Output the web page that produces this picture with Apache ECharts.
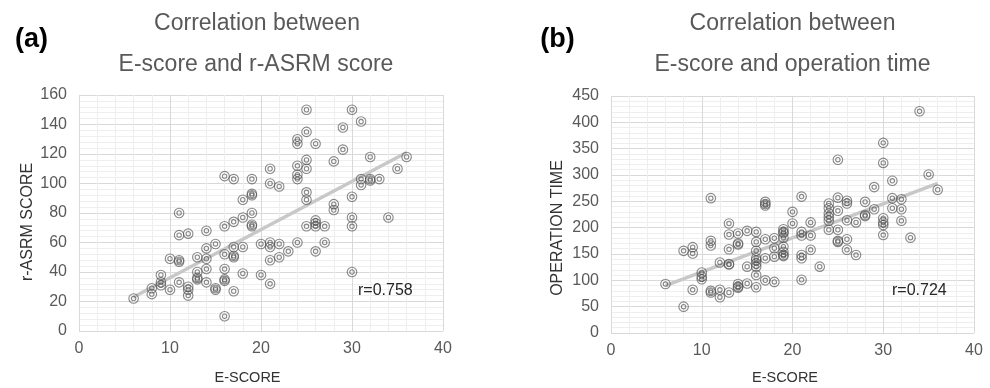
<!DOCTYPE html>
<html>
<head>
<meta charset="utf-8">
<script src="https://cdn.jsdelivr.net/npm/echarts@6/dist/echarts.min.js"></script>
<style>html,body{margin:0;padding:0;background:#fff}#c{width:990px;height:388px}</style>
</head>
<body>
<div id="c"></div>
<script>
// (E-score, r-ASRM score)
const asrmData = [
[6,22],[8,25],[8,29],[9,31],[9,33],[9,38],[10,28],[10,49],[11,33],[11,47],[11,48],[11,65],[11,80],
[12,24],[12,28],[12,30],[12,66],[13,35],[13,36],[13,40],[13,50],[14,33],[14,42],[14,49],[14,56],[14,68],
[15,28],[15,29],[15,59],[16,10],[16,34],[16,35],[16,42],[16,52],[16,71],[16,105],
[17,27],[17,50],[17,51],[17,57],[17,74],[17,103],[18,39],[18,57],[18,77],[18,89],
[19,71],[19,72],[19,80],[19,92],[19,93],[19,103],[20,38],[20,59],[21,32],[21,48],[21,57],[21,60],[21,100],[21,110],
[22,50],[22,59],[22,98],[23,54],[24,60],[24,103],[24,106],[24,112],[24,127],[24,130],
[25,71],[25,89],[25,94],[25,110],[25,116],[25,135],[25,150],[26,54],[26,71],[26,73],[26,75],[26,127],[27,60],[27,71],
[28,82],[28,86],[28,115],[29,123],[29,138],[30,40],[30,71],[30,77],[30,91],[30,150],[31,99],[31,103],[31,142],
[32,102],[32,103],[32,118],[33,103],[34,77],[35,110],[36,118]
];
// (E-score, operation time)
const opTimeData = [
[6,93],[8,50],[8,156],[9,82],[9,151],[9,163],[10,102],[10,107],[10,115],
[11,77],[11,80],[11,166],[11,175],[11,256],[12,68],[12,82],[12,134],
[13,77],[13,130],[13,131],[13,159],[13,187],[13,208],[14,86],[14,88],[14,93],[14,168],[14,170],[14,189],
[15,94],[15,126],[15,194],[16,87],[16,110],[16,126],[16,132],[16,138],[16,142],[16,156],[16,173],[16,192],
[17,100],[17,142],[17,178],[17,242],[17,245],[17,249],[18,97],[18,145],[18,161],[18,180],
[19,146],[19,148],[19,154],[19,164],[19,181],[19,190],[19,192],[19,197],[20,208],[20,230],
[21,101],[21,142],[21,148],[21,185],[21,192],[21,259],[22,158],[22,185],[22,210],[23,126],
[24,196],[24,213],[24,220],[24,227],[24,237],[24,246],[25,173],[25,175],[25,196],[25,232],[25,257],[25,329],
[26,158],[26,178],[26,214],[26,246],[26,251],[27,148],[27,210],[28,222],[28,224],[28,249],[29,235],[29,277],
[30,186],[30,205],[30,210],[30,218],[30,323],[30,361],[31,237],[31,256],[31,289],[32,213],[32,235],[32,254],
[33,181],[34,421],[35,301],[36,272]
];
const trendA = [[6,23],[36,121]];
const trendB = [[6,90],[36,284]];
const titlesA = ['Correlation between', 'E-score and r-ASRM score'];
const titlesB = ['Correlation between', 'E-score and operation time'];
const rA = 'r=0.758', rB = 'r=0.724';

const FF = '"Liberation Sans", Arial, sans-serif';
const ring = 'path://M5,0A5,5 0 1,1 5,10A5,5 0 1,1 5,0ZM5,2.7A2.3,2.3 0 1,1 5,7.3A2.3,2.3 0 1,1 5,2.7Z';

function xAx(gi){
  return {gridIndex:gi, type:'value', min:0, max:40, interval:10,
    axisLine:{show:false}, axisTick:{show:false},
    axisLabel:{color:'#595959', fontSize:16, fontFamily:FF, margin:10},
    splitLine:{show:true, lineStyle:{color:'#d9d9d9', width:1}},
    minorTick:{show:false, splitNumber:5},
    minorSplitLine:{show:true, lineStyle:{color:'#eeeeee', width:1}}};
}
function yAx(gi, max, iv){
  return {gridIndex:gi, type:'value', min:0, max:max, interval:iv,
    axisLine:{show:false}, axisTick:{show:false},
    axisLabel:{color:'#595959', fontSize:16, fontFamily:FF, margin:12},
    splitLine:{show:true, lineStyle:{color:'#d9d9d9', width:1}},
    minorTick:{show:false, splitNumber:5},
    minorSplitLine:{show:true, lineStyle:{color:'#eeeeee', width:1}}};
}
function txt(text, x, y, size, color, opts){
  return Object.assign({type:'text', x:x, y:y, silent:true,
    style:{text:text, fill:color, font:size, textAlign:'center', textVerticalAlign:'middle'}}, opts||{});
}
const scatterStyle = {color:'rgba(0,0,0,0)', borderColor:'rgba(80,80,80,0.85)', borderWidth:1.1};

const chart = echarts.init(document.getElementById('c'), null, {renderer:'canvas'});
chart.setOption({
  animation:false,
  backgroundColor:'#fff',
  grid:[
    {left:79, top:95, width:364, height:236},
    {left:611, top:96, width:363, height:237}
  ],
  xAxis:[xAx(0), xAx(1)],
  yAxis:[yAx(0,160,20), yAx(1,450,50)],
  series:[
    {type:'line', xAxisIndex:0, yAxisIndex:0, data:trendA, showSymbol:false, silent:true, z:1,
      lineStyle:{color:'#c8c8c8', width:3.5}},
    {type:'line', xAxisIndex:1, yAxisIndex:1, data:trendB, showSymbol:false, silent:true, z:1,
      lineStyle:{color:'#c8c8c8', width:3.5}},
    {type:'scatter', xAxisIndex:0, yAxisIndex:0, data:asrmData, symbol:ring, symbolSize:9.5, z:2, itemStyle:scatterStyle},
    {type:'scatter', xAxisIndex:1, yAxisIndex:1, data:opTimeData, symbol:ring, symbolSize:9.5, z:2, itemStyle:scatterStyle}
  ],
  graphic:[
    txt('(a)', 31.5, 39.5, 'bold 27px '+FF, '#000'),
    txt('(b)', 557.5, 39.5, 'bold 27px '+FF, '#000'),
    txt(titlesA[0], 257, 24, '23px '+FF, '#595959'),
    txt(titlesA[1], 256, 64.5, '23px '+FF, '#595959'),
    txt(titlesB[0], 792.5, 24, '23px '+FF, '#595959'),
    txt(titlesB[1], 792.5, 64.5, '23px '+FF, '#595959'),
    {type:'text', x:358, y:291, silent:true, z:10,
      style:{text:rA, fill:'#262626', font:'16px '+FF, textAlign:'left', textVerticalAlign:'middle'}},
    {type:'text', x:892, y:291, silent:true, z:10,
      style:{text:rB, fill:'#262626', font:'16px '+FF, textAlign:'left', textVerticalAlign:'middle'}},
    txt('E-SCORE', 247.5, 377.5, '14.5px '+FF, '#333'),
    txt('E-SCORE', 785, 378, '14.5px '+FF, '#333'),
    txt('r-ASRM SCORE', 28, 222, '16px '+FF, '#333', {rotation:Math.PI/2}),
    txt('OPERATION TIME', 558, 228, '16px '+FF, '#333', {rotation:Math.PI/2})
  ]
});
</script>
</body>
</html>
